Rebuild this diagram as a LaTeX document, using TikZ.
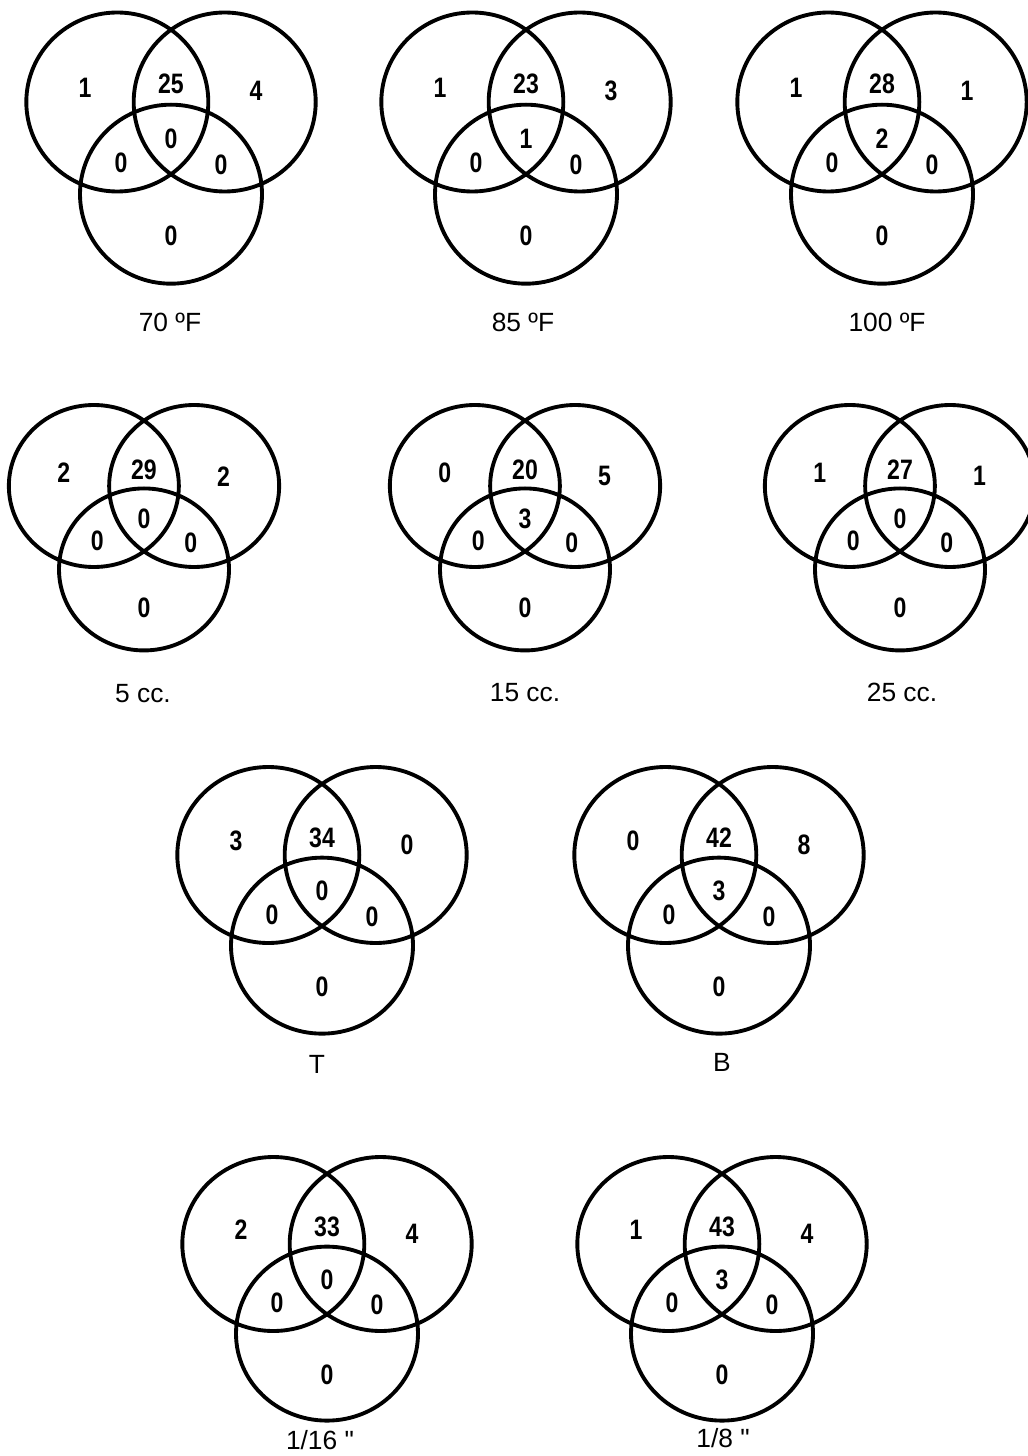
\documentclass[tikz,border=0pt]{standalone}
\usepackage{fontspec}
\setmainfont{Liberation Sans}[Ligatures=TeXOff]
\newfontfamily\vennnum[FakeStretch=0.82]{Liberation Sans}

% one three-set diagram in unit size: name, then the seven region counts
\newcommand{\drawvenn}[8]{%
  \draw[venn line] (-0.59,0) circle (1) (0.59,0) circle (1) (0,1.03) circle (1);
  \node[count] (#1-a) at (-0.945,-0.16) {#2};
  \node[count] (#1-ab) at (0,-0.2) {#3};
  \node[count] (#1-b) at (0.935,-0.12) {#4};
  \node[count] (#1-abc) at (0,0.41) {#5};
  \node[count] (#1-ac) at (-0.55,0.68) {#6};
  \node[count] (#1-bc) at (0.55,0.7) {#7};
  \node[count] (#1-c) at (0,1.5) {#8};
}

\begin{document}
\begin{tikzpicture}[
    x=0.02cm, y=-0.02cm,
    venn line/.style={line width=2.2pt},
    count/.style={font=\vennnum\bfseries\fontsize{16}{16}\selectfont, inner sep=0pt},
    caption/.style={font=\fontsize{15}{15}\selectfont, inner sep=0pt}
]
    \useasboundingbox (0,0) rectangle (1027,1456);

    % Row 1: temperature
    \foreach \cx/\nm/\a/\ab/\b/\abc/\ac/\bc/\c in {171/f70/1/25/4/0/0/0/0, 526/f85/1/23/3/1/0/0/0, 882/f100/1/28/1/2/0/0/0}{
        \begin{scope}[shift={(\cx,102)}, xscale=91, yscale=89.5]
            \drawvenn{\nm}{\a}{\ab}{\b}{\abc}{\ac}{\bc}{\c}
        \end{scope}
    }
    \node[caption] (f70-lab) at (170,322) {70 ºF};
    \node[caption] (f85-lab) at (523,322) {85 ºF};
    \node[caption] (f100-lab) at (887,322) {100 ºF};

    % Row 2: volume
    \foreach \cx/\nm/\a/\ab/\b/\abc/\ac/\bc/\c in {144/cc5/2/29/2/0/0/0/0, 525/cc15/0/20/5/3/0/0/0, 900/cc25/1/27/1/0/0/0/0}{
        \begin{scope}[shift={(\cx,486)}, xscale=85, yscale=81]
            \drawvenn{\nm}{\a}{\ab}{\b}{\abc}{\ac}{\bc}{\c}
        \end{scope}
    }
    \node[caption] (cc5-lab) at (143,694) {5 cc.};
    \node[caption] (cc15-lab) at (525,693) {15 cc.};
    \node[caption] (cc25-lab) at (902,692) {25 cc.};

    % Row 3: position
    \foreach \cx/\nm/\a/\ab/\b/\abc/\ac/\bc/\c in {322/top/3/34/0/0/0/0/0, 719/bot/0/42/8/3/0/0/0}{
        \begin{scope}[shift={(\cx,855)}, xscale=91, yscale=88]
            \drawvenn{\nm}{\a}{\ab}{\b}{\abc}{\ac}{\bc}{\c}
        \end{scope}
    }
    \node[caption] (top-lab) at (317,1064) {T};
    \node[caption] (bot-lab) at (722,1062) {B};

    % Row 4: thickness
    \foreach \cx/\nm/\a/\ab/\b/\abc/\ac/\bc/\c in {327/in16/2/33/4/0/0/0/0, 722/in8/1/43/4/3/0/0/0}{
        \begin{scope}[shift={(\cx,1244)}, xscale=91, yscale=87]
            \drawvenn{\nm}{\a}{\ab}{\b}{\abc}{\ac}{\bc}{\c}
        \end{scope}
    }
    \node[caption] (in16-lab) at (320,1440) {1/16 "};
    \node[caption] (in8-lab) at (723,1438) {1/8 "};
\end{tikzpicture}
\end{document}
